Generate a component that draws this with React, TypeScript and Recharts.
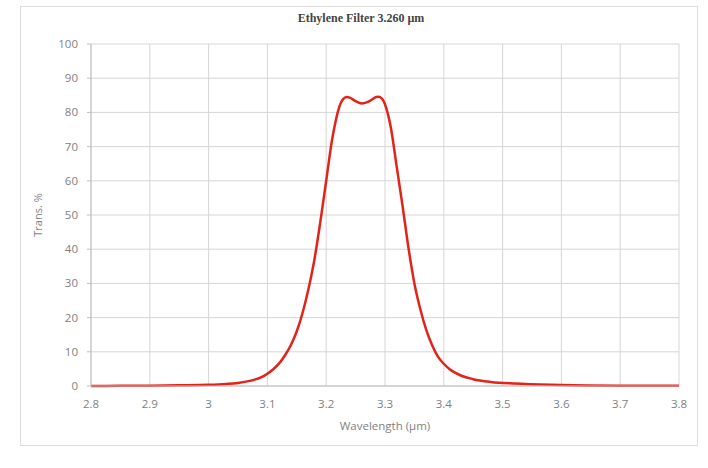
import { LineChart, Line, XAxis, YAxis, CartesianGrid, Label } from "recharts";

const wavelengths = [
  2.8, 2.85, 2.9, 2.95, 3.0, 3.03, 3.05, 3.07, 3.09, 3.1, 3.11, 3.12, 3.13, 3.14, 3.15, 3.16, 3.17, 3.18,
  3.19, 3.2, 3.21, 3.215, 3.22, 3.225, 3.23, 3.235, 3.24, 3.25, 3.26, 3.27, 3.28, 3.285, 3.29, 3.295,
  3.3, 3.305, 3.31, 3.32, 3.33, 3.34, 3.35, 3.36, 3.37, 3.38, 3.39, 3.4, 3.41, 3.43, 3.45, 3.48, 3.52,
  3.6, 3.7, 3.8,
];
const transmission = [
  0.0, 0.05, 0.1, 0.2, 0.35, 0.6, 0.9, 1.5, 2.6, 3.6, 4.9, 6.6, 9.0, 12.0, 16.0, 21.5, 28.5, 37,
  48, 60, 72, 76.5, 80.3, 82.8, 84.1, 84.5, 84.3, 83.3, 82.6, 83.0, 84.0, 84.5, 84.6, 84.0,
  82.4, 79.5, 75.5, 64, 52.5, 40.3, 30, 22.5, 16.5, 12, 8.6, 6.5, 4.9, 3.0, 2.0, 1.2, 0.7,
  0.3, 0.1, 0.05,
];
const xTicks = [2.8, 2.9, 3.0, 3.1, 3.2, 3.3, 3.4, 3.5, 3.6, 3.7, 3.8];
const yTicks = [0, 10, 20, 30, 40, 50, 60, 70, 80, 90, 100];

const data = wavelengths.map((w, i) => ({ w, t: transmission[i] }));

const tickStyle = { fontSize: 11.5, fill: "#7f7f7f", fontFamily: "'Open Sans', sans-serif" };

export default function App() {
  return (
    <div style={{ position: "absolute", left: 0, top: 0, width: 708, height: 468, background: "#fff" }}>
      <div
        style={{
          position: "absolute",
          left: 20,
          top: 6,
          width: 676,
          height: 438,
          border: "1px solid #dcdcdc",
        }}
      />
      <div
        style={{
          position: "absolute",
          left: 0,
          width: 722,
          top: 11,
          textAlign: "center",
          fontFamily: "'Liberation Serif', serif",
          fontWeight: "bold",
          fontSize: 12,
          color: "#444",
        }}
      >
        Ethylene Filter 3.260 µm
      </div>
      <div style={{ position: "absolute", left: 0, top: 0 }}>
        <LineChart width={708} height={468} data={data} margin={{ top: 44, right: 29, bottom: 52, left: 0 }}>
          <CartesianGrid stroke="#d6d6d6" horizontalValues={yTicks} verticalValues={xTicks} />
          <XAxis
            dataKey="w"
            type="number"
            domain={[2.8, 3.8]}
            ticks={xTicks}
            height={30}
            tick={tickStyle}
            tickLine={false}
            axisLine={{ stroke: "#bfbfbf" }}
            tickSize={6}
            tickMargin={8}
            interval={0}
          >
            <Label
              value="Wavelength (µm)"
              position="insideBottom"
              offset={-14}
              style={{ fontSize: 11.5, fill: "#7f7f7f", fontFamily: "'Open Sans', sans-serif" }}
            />
          </XAxis>
          <YAxis
            type="number"
            domain={[0, 100]}
            ticks={yTicks}
            width={91}
            tick={tickStyle}
            tickLine={{ stroke: "#bfbfbf" }}
            tickSize={4}
            tickMargin={9}
            axisLine={{ stroke: "#bfbfbf" }}
            interval={0}
          >
            <Label
              value="Trans. %"
              angle={-90}
              position="insideLeft"
              offset={38}
              style={{ fontSize: 11, fill: "#7f7f7f", fontFamily: "'Open Sans', sans-serif", textAnchor: "middle" }}
            />
          </YAxis>
          <Line
            type="monotone"
            dataKey="t"
            stroke="#e2231a"
            strokeWidth={2.5}
            dot={false}
            isAnimationActive={false}
          />
        </LineChart>
      </div>
    </div>
  );
}
